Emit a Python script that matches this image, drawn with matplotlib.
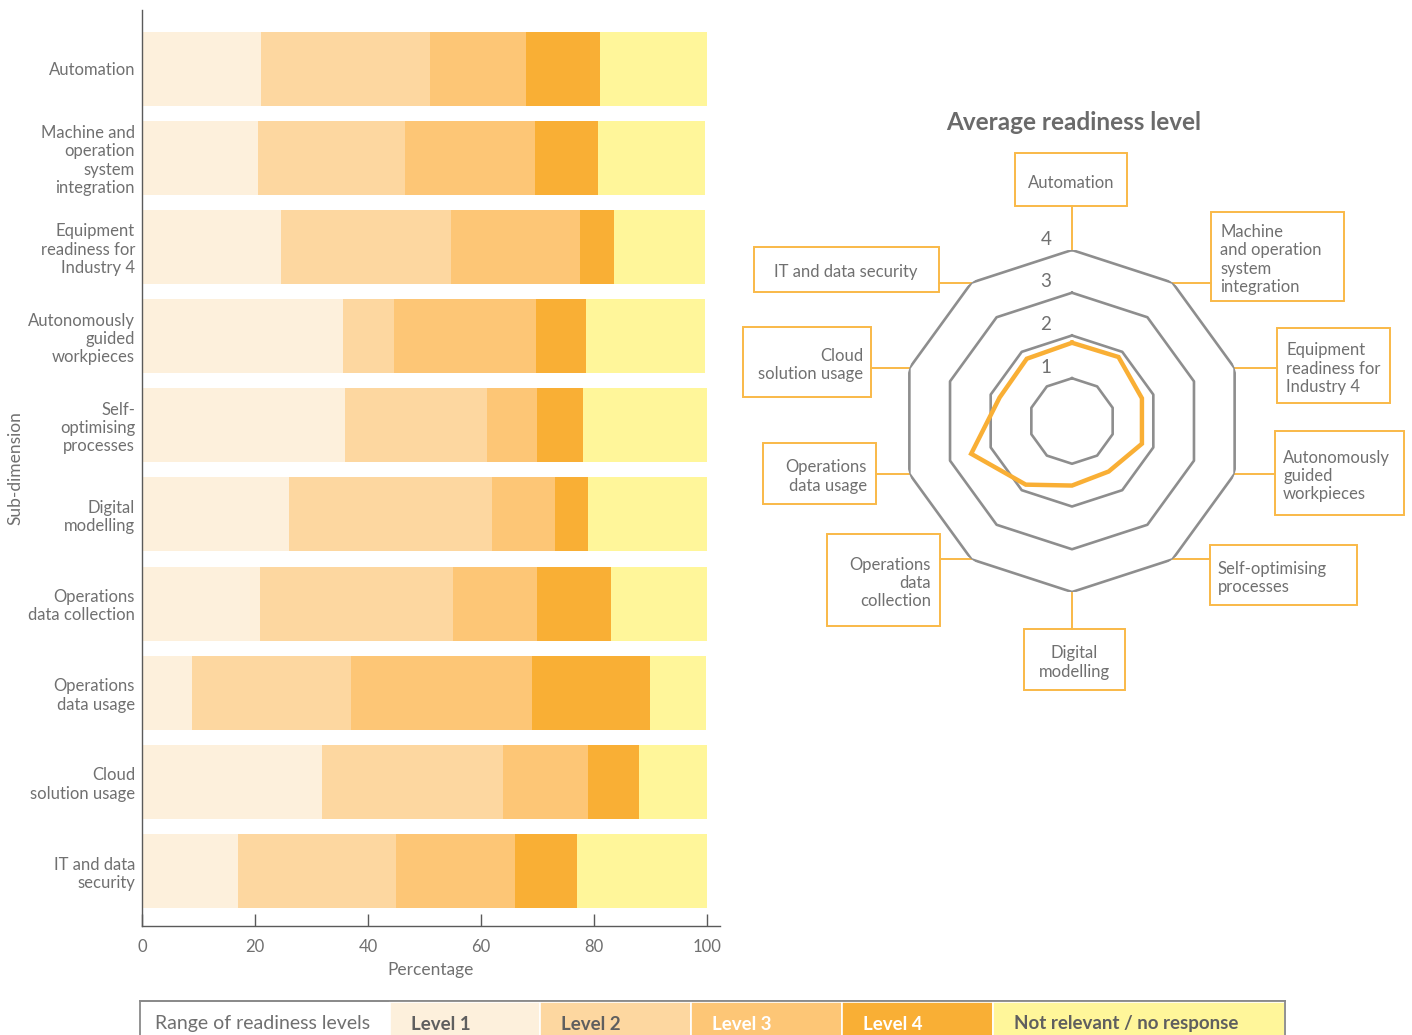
import numpy as np
import matplotlib
matplotlib.use("Agg")
import matplotlib.pyplot as plt
from matplotlib.patches import Rectangle

# ---------------- data ----------------
categories = ["Automation", "Machine and\noperation\nsystem\nintegration",
              "Equipment\nreadiness for\nIndustry 4", "Autonomously\nguided\nworkpieces",
              "Self-\noptimising\nprocesses", "Digital\nmodelling",
              "Operations\ndata collection", "Operations\ndata usage",
              "Cloud\nsolution usage", "IT and data\nsecurity"]
level1 = [21.0, 20.5, 24.6, 35.6, 35.9, 26.0, 20.9, 8.8, 31.9, 17.0]
level2 = [30.0, 26.0, 30.1, 9.0, 25.2, 35.9, 34.1, 28.2, 32.0, 28.0]
level3 = [17.0, 23.0, 22.8, 25.1, 8.8, 11.2, 14.9, 32.0, 15.0, 21.0]
level4 = [13.1, 11.2, 6.0, 8.9, 8.2, 5.8, 13.1, 20.9, 9.1, 11.0]
not_relevant = [18.9, 18.9, 16.1, 21.0, 21.9, 21.1, 17.0, 9.9, 12.0, 23.0]
series_names = ["Level 1", "Level 2", "Level 3", "Level 4", "Not relevant / no response"]
x_ticks = [0, 20, 40, 60, 80, 100]

radar_labels = ["Automation", "Machine\nand operation\nsystem\nintegration",
                "Equipment\nreadiness for\nIndustry 4", "Autonomously\nguided\nworkpieces",
                "Self-optimising\nprocesses", "Digital\nmodelling",
                "Operations\ndata\ncollection", "Operations\ndata usage",
                "Cloud\nsolution usage", "IT and data security"]
avg_level = [1.83, 1.85, 1.72, 1.72, 1.46, 1.51, 1.84, 2.48, 1.78, 1.80]
radar_ticks = [1, 2, 3, 4]

# ---------------- style ----------------
colors = ["#FDF0DC", "#FDD7A0", "#FDC676", "#F9AF35", "#FFF69A"]
grey_txt = "#707070"
axis_col = "#5a5a5a"
orange = "#F9AF35"
box_col = "#F9B948"
plt.rcParams["font.family"] = ["Lato", "DejaVu Sans"]

W, H = 1412, 1035
fig = plt.figure(figsize=(W / 100, H / 100), dpi=100)


def rect_px(x0, y0, x1, y1):
    return [x0 / W, 1 - y1 / H, (x1 - x0) / W, (y1 - y0) / H]


# ---------------- stacked bar chart ----------------
ax = fig.add_axes(rect_px(142, 10, 720, 926))
ypos = np.arange(len(categories))
left = np.zeros(len(categories))
for vals, c in zip([level1, level2, level3, level4, not_relevant], colors):
    ax.barh(ypos, vals, left=left, height=0.83, color=c, edgecolor="none")
    left += np.array(vals)
ax.set_xlim(0, 102.3)
ax.set_ylim(9.617, -0.66)
ax.set_yticks(ypos)
ax.set_yticklabels(categories, fontsize=12, color=grey_txt, linespacing=1.18)
ax.set_xticks(x_ticks)
ax.set_xticklabels([str(t) for t in x_ticks], fontsize=12, color=grey_txt)
ax.tick_params(axis="y", length=0, pad=5)
ax.tick_params(axis="x", direction="in", length=9, width=1, color=axis_col, pad=9.5)
for s in ["top", "right"]:
    ax.spines[s].set_visible(False)
for s in ["left", "bottom"]:
    ax.spines[s].set_color(axis_col)
    ax.spines[s].set_linewidth(1.0)
ax.set_xlabel("Percentage", fontsize=12.5, color=grey_txt)
ax.xaxis.set_label_coords(0.5, -0.039)
ax.set_ylabel("Sub-dimension", fontsize=12.5, color=grey_txt)
ax.yaxis.set_label_coords(-0.205, 0.5)

# ---------------- radar chart ----------------
cx, cy, R = 1072, 421, 171
axr = fig.add_axes(rect_px(cx - R, cy - R, cx + R, cy + R), projection="polar")
axr.set_theta_offset(np.pi / 2)
axr.set_theta_direction(-1)
axr.set_ylim(0, 4)
n = len(radar_labels)
theta = np.linspace(0, 2 * np.pi, n, endpoint=False)
theta_c = np.append(theta, theta[0])
for t in radar_ticks:
    axr.plot(theta_c, np.full(n + 1, t), color="#8e8e8e", lw=1.9, zorder=2)
axr.plot(theta_c, np.append(avg_level, avg_level[0]), color=orange, lw=3.2,
         zorder=3, solid_joinstyle="miter")
axr.grid(False)
axr.set_xticks([])
axr.set_yticks([])
axr.spines["polar"].set_visible(False)
axr.patch.set_alpha(0)
for t in radar_ticks:
    axr.annotate(str(t), xy=(0, t), xytext=(-26, 11), textcoords="offset pixels",
                 ha="center", va="center", fontsize=13.5, color=grey_txt)

fig.text(1074 / W, 1 - 122 / H, "Average readiness level", ha="center", va="center",
         fontsize=17.5, fontweight="bold", color="#6a6a6a")

# overlay axes in pixel coordinates for label boxes / legend
axo = fig.add_axes([0, 0, 1, 1], zorder=-1)
axo.set_xlim(0, W)
axo.set_ylim(H, 0)
axo.axis("off")
axo.patch.set_alpha(0)

# box layout: x0, y0, x1, y1, text alignment, text x, connector side
boxes = [
    (1015, 153, 1127, 206, "center", 1071, "bottom"),
    (1211, 212, 1344, 301, "left", 1220, "left"),
    (1277, 328, 1390, 403, "left", 1286, "left"),
    (1275, 431, 1404, 515, "left", 1283, "left"),
    (1210, 545, 1357, 605, "left", 1218, "left"),
    (1024, 629, 1125, 690, "center", 1074, "top"),
    (827, 534, 940, 626, "right", 931, "right"),
    (763, 443, 876, 504, "right", 867, "right"),
    (743, 327, 871, 397, "right", 863, "right"),
    (754, 247, 939, 292, "center", 846, "right"),
]
fig.canvas.draw()
for lab, th, (x0, y0, x1, y1, ha, tx, side) in zip(radar_labels, theta, boxes):
    vx, vy = axr.transData.transform((th, 4))
    vy = H - vy
    axo.add_patch(Rectangle((x0, y0), x1 - x0, y1 - y0, fill=False,
                            edgecolor=box_col, lw=1.4))
    axo.text(tx, (y0 + y1) / 2 + 3, lab, ha=ha, va="center", multialignment=ha,
             fontsize=12, color=grey_txt, linespacing=1.18)
    if side == "bottom":
        axo.plot([vx, vx], [vy, y1], color=box_col, lw=1.4)
    elif side == "top":
        axo.plot([vx, vx], [vy, y0], color=box_col, lw=1.4)
    elif side == "left":
        axo.plot([vx, x0], [vy, vy], color=box_col, lw=1.4)
    else:
        axo.plot([vx, x1], [vy, vy], color=box_col, lw=1.4)

# ---------------- legend strip ----------------
axl = fig.add_axes([0, 0, 1, 1], zorder=5)
axl.set_xlim(0, W)
axl.set_ylim(H, 0)
axl.axis("off")
axl.patch.set_alpha(0)
edges = [140, 390, 540, 691, 842, 993, 1285]
top = 1001
axl.add_patch(Rectangle((edges[0], top), edges[-1] - edges[0], 60, facecolor="white",
                        edgecolor="#8a8a8a", lw=1.3))
axl.text(edges[0] + 15, 1024, "Range of readiness levels", ha="left", va="center",
         fontsize=14, color=grey_txt)
txt_cols = ["#5f5f5f", "#5f5f5f", "white", "white", "#5f5f5f"]
for i, (name, c) in enumerate(zip(series_names, colors)):
    xa, xb = edges[i + 1], edges[i + 2]
    axl.add_patch(Rectangle((xa, top + 1), xb - xa, 60, facecolor=c,
                            edgecolor="white", lw=1.2))
    axl.text(xa + 21, 1024, name, ha="left", va="center", fontsize=13.5,
             fontweight="bold", color=txt_cols[i])
axl.plot([edges[0], edges[-1]], [top, top], color="#8a8a8a", lw=1.3)
axl.plot([edges[-1], edges[-1]], [top, H], color="#8a8a8a", lw=1.3)

fig.savefig("out.png", dpi=100)
